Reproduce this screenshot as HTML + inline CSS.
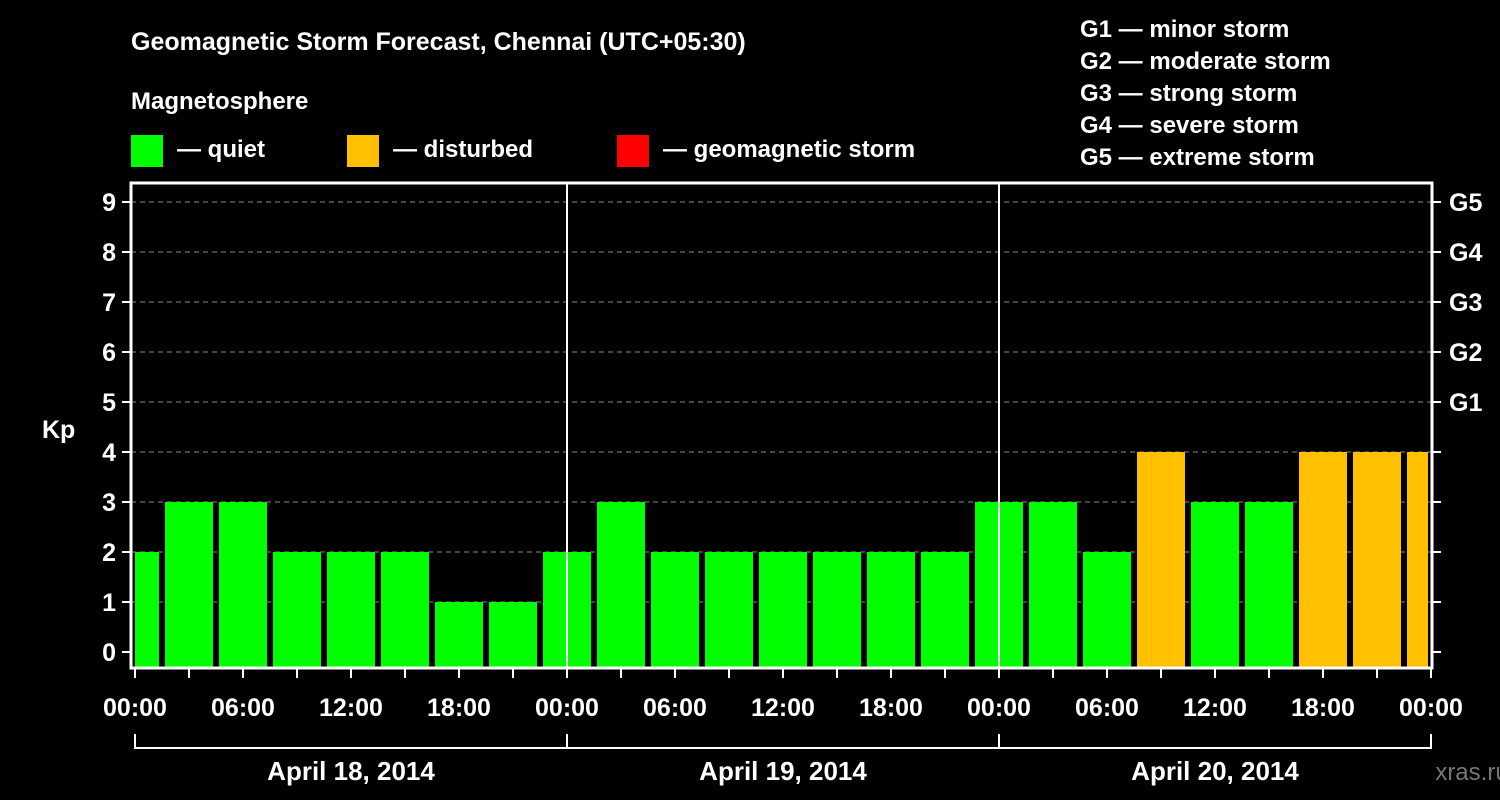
<!DOCTYPE html>
<html><head><meta charset="utf-8"><style>
html,body{margin:0;padding:0;background:#000;}
svg{display:block;font-family:"Liberation Sans",sans-serif;font-weight:bold;}
</style></head><body>
<svg id="c" width="1500" height="800" viewBox="0 0 1500 800">
<text x="131" y="50" fill="#fff" font-size="25">Geomagnetic Storm Forecast, Chennai (UTC+05:30)</text>
<text x="131" y="109" fill="#fff" font-size="24">Magnetosphere</text>
<g><rect x="131" y="135" width="32" height="32" fill="#00ff00"/><text x="177" y="157" fill="#fff" font-size="24">— quiet</text></g>
<g><rect x="347" y="135" width="32" height="32" fill="#ffc000"/><text x="393" y="157" fill="#fff" font-size="24">— disturbed</text></g>
<g><rect x="617" y="135" width="32" height="32" fill="#ff0000"/><text x="663" y="157" fill="#fff" font-size="24">— geomagnetic storm</text></g>
<g fill="#fff" font-size="24">
<text x="1080" y="37">G1 — minor storm</text>
<text x="1080" y="69">G2 — moderate storm</text>
<text x="1080" y="101">G3 — strong storm</text>
<text x="1080" y="133">G4 — severe storm</text>
<text x="1080" y="165">G5 — extreme storm</text>
</g>
<text x="42" y="438" fill="#fff" font-size="25">Kp</text>
<text x="1472" y="780" fill="#777" font-size="24" font-weight="normal" text-anchor="middle">xras.ru</text>
<g id="grid"></g><g id="bars"></g><g id="axes"></g>
</svg>
<script>
const kpValues=[2,3,3,2,2,2,1,1,2,3,2,2,2,2,2,2,3,3,2,4,3,3,4,4,4];
const kpLevels=[4,4,4,4,4,4,4,4,4,4,4,4,4,4,4,4,4,4,4,4,4,4,4,4,4];
const yTicks=[0,1,2,3,4,5,6,7,8,9];
const gLabels=["","","","","","G1","G2","G3","G4","G5"];
const xTickLabels=["00:00","06:00","12:00","18:00","00:00","06:00","12:00","18:00","00:00","06:00","12:00","18:00","00:00"];
const dayLabels=["April 18, 2014","April 19, 2014","April 20, 2014"];
const firstSlotHour=-1; // slot start in local hours (UTC 00:00 = 05:30 local, slots of 3h)
const NS="http://www.w3.org/2000/svg";
const X0=135,PXH=18,Y0=652,PXK=50,L=131,R=1432,T=183,B=668;
const xs=h=>X0+h*PXH, ys=k=>Y0-k*PXK;
function mk(p,t,a){const e=document.createElementNS(NS,t);for(const k in a)e.setAttribute(k,a[k]);p.appendChild(e);return e;}
const grid=document.getElementById('grid'),bars=document.getElementById('bars'),axes=document.getElementById('axes');
yTicks.forEach((k,i)=>{
 const y=ys(k);
 if(k>0){const gl=mk(grid,'line',{x1:L,x2:R,y1:y,y2:y,stroke:'#888','stroke-width':1,'stroke-dasharray':'5,4'});
 
 }
 const t=mk(axes,'line',{x1:122,x2:L,y1:y,y2:y,stroke:'#fff','stroke-width':2});
 
 
 const t2=mk(axes,'line',{x1:R,x2:1441,y1:y,y2:y,stroke:'#fff','stroke-width':2});
 
 
 const lb=mk(axes,'text',{x:116,y:y+9,fill:'#fff','font-size':25,'text-anchor':'end'});lb.textContent=k;
 
 
 if(gLabels[i]){const g=mk(axes,'text',{x:1449,y:y+9,fill:'#fff','font-size':25});g.textContent=gLabels[i];
 
 }
});
const colors=['#00ff00','#00ff00','#00ff00','#00ff00','#ffc000','#ff0000','#ff0000','#ff0000','#ff0000','#ff0000'];
kpValues.forEach((v,i)=>{
 const h0=firstSlotHour-0.5+3*(i-1)+3; // slot start
 let x1=xs(h0)+3,x2=xs(h0+3)-3;
 x1=Math.max(x1,X0);x2=Math.min(x2,1428);
 const r=mk(bars,'rect',{x:x1,y:ys(v),width:x2-x1,height:B-ys(v),fill:colors[v]});
 
 
});
[1,2].forEach(d=>{const l=mk(axes,'line',{x1:xs(24*d),x2:xs(24*d),y1:T,y2:B,stroke:'#fff','stroke-width':2});
 
 });
const fr=mk(axes,'rect',{x:L,y:T,width:R-L,height:B-T,fill:'none',stroke:'#fff','stroke-width':3});


for(let h=0;h<=72;h+=3){const t=mk(axes,'line',{x1:xs(h),x2:xs(h),y1:B,y2:678,stroke:'#fff','stroke-width':2});
 
 }
xTickLabels.forEach((s,i)=>{const t=mk(axes,'text',{x:xs(i*6),y:716,fill:'#fff','font-size':25,'text-anchor':'middle'});t.textContent=s;
 
 });
const bl=mk(axes,'line',{x1:xs(0),x2:xs(72),y1:748,y2:748,stroke:'#fff','stroke-width':2});


for(let d=0;d<=3;d++){const t=mk(axes,'line',{x1:xs(24*d),x2:xs(24*d),y1:734,y2:749,stroke:'#fff','stroke-width':2});
 
 }
dayLabels.forEach((s,d)=>{const t=mk(axes,'text',{x:xs(24*d+12),y:780,fill:'#fff','font-size':26,'text-anchor':'middle'});t.textContent=s;
 
 });
</script>
</body></html>
